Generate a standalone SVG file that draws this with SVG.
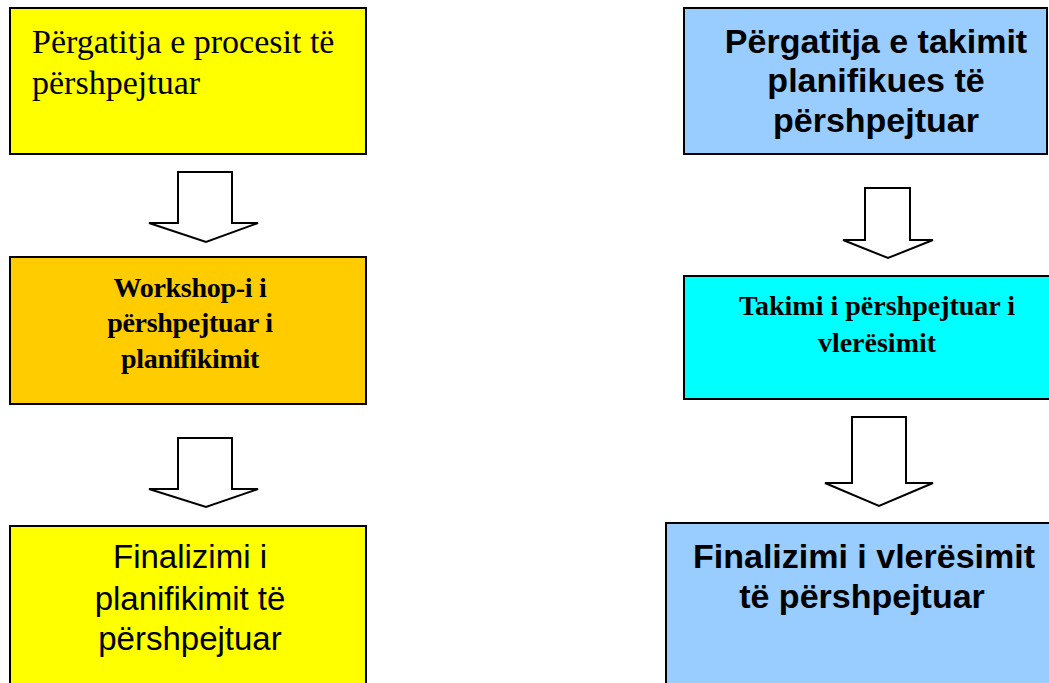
<svg xmlns="http://www.w3.org/2000/svg" width="1049" height="683" viewBox="0 0 1049 683">
<style>
.box{stroke:#000;stroke-width:2}
.arr{fill:#fff;stroke:#000;stroke-width:2;stroke-linejoin:miter}
.serif{font-family:"Liberation Serif","Times New Roman",serif;fill:#000}
.sans{font-family:"Liberation Sans",Arial,sans-serif;fill:#000}
</style>
<rect width="1049" height="683" fill="#fff"/>
<g id="connectors">
<polygon class="arr" points="178,172 232,172 232,223 258,223 206,242 149,223 178,223"/>
<polygon class="arr" points="178,438 232,438 232,489 258,489 206,507 149,489 178,489"/>
<polygon class="arr" points="865,188 910,188 910,240 933,240 888,258 843,240 865,240"/>
<polygon class="arr" points="852,417 906,417 906,483 933,483 879,506 825,483 852,483"/>
</g>
<g id="node1">
<rect class="box" x="10" y="8" width="356" height="146" fill="#ffff00"/>
<text class="serif" font-size="34"><tspan x="32" y="53">Përgatitja e procesit të</tspan><tspan x="32" y="94">përshpejtuar</tspan></text>
</g>
<g id="node2">
<rect class="box" x="10" y="257" width="356" height="147" fill="#ffcc00"/>
<text class="serif" font-size="28" font-weight="bold" text-anchor="middle" letter-spacing="-0.3"><tspan x="190" y="297">Workshop-i i</tspan><tspan x="190" y="332">përshpejtuar i</tspan><tspan x="190" y="368">planifikimit</tspan></text>
</g>
<g id="node3">
<rect class="box" x="10" y="526" width="356" height="170" fill="#ffff00"/>
<text class="sans" font-size="33" text-anchor="middle"><tspan x="190" y="568">Finalizimi i</tspan><tspan x="190" y="610">planifikimit të</tspan><tspan x="190" y="650">përshpejtuar</tspan></text>
</g>
<g id="node4">
<rect class="box" x="684" y="8" width="363" height="146" fill="#99ccff"/>
<text class="sans" font-size="34" font-weight="bold" text-anchor="middle"><tspan x="876" y="53">Përgatitja e takimit</tspan><tspan x="876" y="92">planifikues të</tspan><tspan x="876" y="132">përshpejtuar</tspan></text>
</g>
<g id="node5">
<rect class="box" x="684" y="276" width="370" height="123" fill="#00ffff"/>
<text class="serif" font-size="28" font-weight="bold" text-anchor="middle"><tspan x="877" y="315">Takimi i përshpejtuar i</tspan><tspan x="877" y="352">vlerësimit</tspan></text>
</g>
<g id="node6">
<rect class="box" x="666" y="523" width="390" height="170" fill="#99ccff"/>
<text class="sans" font-size="34" font-weight="bold" text-anchor="middle"><tspan x="864" y="568">Finalizimi i vlerësimit</tspan><tspan x="862" y="608">të përshpejtuar</tspan></text>
</g>
</svg>
